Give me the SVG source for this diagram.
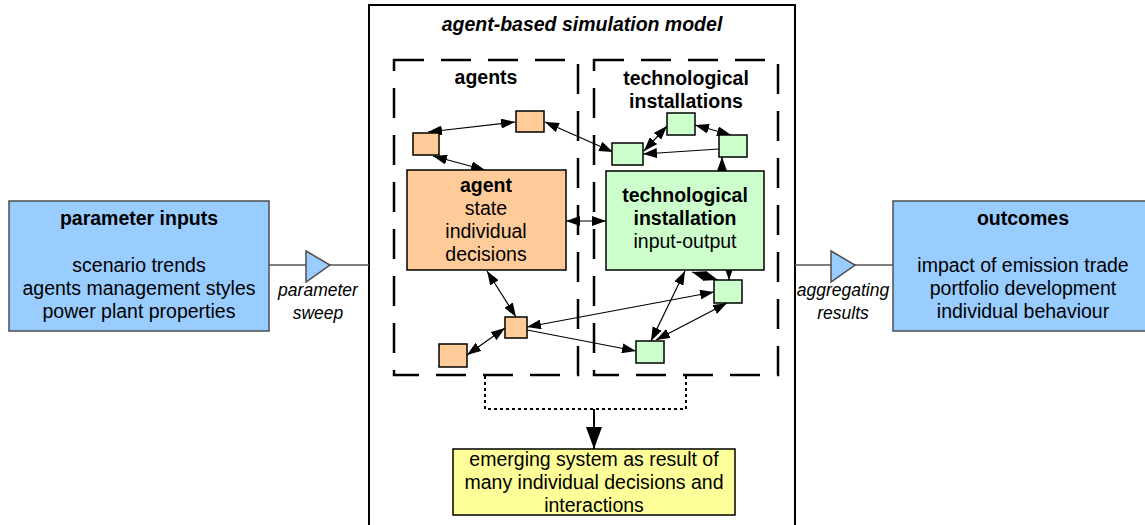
<svg xmlns="http://www.w3.org/2000/svg" width="1145" height="525" viewBox="0 0 1145 525">
<style>
text{font-family:"Liberation Sans",Arial,sans-serif;font-size:19.5px;fill:#000;text-anchor:middle}
.b{font-weight:bold}
.i{font-style:italic}
.lbl{font-size:17.5px;font-style:italic}
.blue{fill:#99CCFF;stroke:#4d4d4d;stroke-width:1.5}
.or{fill:#FFCC99;stroke:#000;stroke-width:1.5}
.gr{fill:#CCFFCC;stroke:#000;stroke-width:1.5}
.dash{fill:none;stroke:#000;stroke-width:2.5;stroke-dasharray:30 17}
.c{fill:none;stroke:#000;stroke-width:1.2}
.g{fill:none;stroke:#555;stroke-width:1.5}
</style>
<defs>
<marker id="ah" viewBox="0 0 14 10" refX="14" refY="5" markerWidth="14" markerHeight="10" orient="auto-start-reverse" markerUnits="userSpaceOnUse"><path d="M0,0 L14,5 L0,10 z" fill="#000"/></marker>
<marker id="big" viewBox="0 0 22 16" refX="22" refY="8" markerWidth="22" markerHeight="16" orient="auto" markerUnits="userSpaceOnUse"><path d="M0,0 L22,8 L0,16 z" fill="#000"/></marker>
</defs>

<g id="model">
<rect x="369" y="5" width="426" height="530" fill="#fff" stroke="#000" stroke-width="2"/>
<text class="b i" x="582" y="31">agent-based simulation model</text>
</g>

<g id="agents-group">
<rect class="dash" x="394" y="60" width="184" height="315"/>
<text class="b" x="486" y="84">agents</text>
</g>
<g id="tech-group">
<rect class="dash" x="594" y="60" width="184" height="315"/>
<text class="b" x="686" y="85">technological</text>
<text class="b" x="686" y="108">installations</text>
</g>

<g id="connectors">
<line class="g" x1="269" y1="265" x2="369" y2="265"/>
<line class="g" x1="795" y1="265" x2="893" y2="265"/>
<path d="M485,376 V409 H686 V376" fill="none" stroke="#000" stroke-width="2" stroke-dasharray="3 3"/>
<line x1="594" y1="409" x2="594" y2="449" stroke="#000" stroke-width="2" marker-end="url(#big)"/>
<line class="c" x1="428" y1="132" x2="515" y2="122" marker-start="url(#ah)" marker-end="url(#ah)"/>
<line class="c" x1="433" y1="156" x2="485" y2="170" marker-start="url(#ah)" marker-end="url(#ah)"/>
<line class="c" x1="545" y1="122" x2="613" y2="152" marker-start="url(#ah)" marker-end="url(#ah)"/>
<line class="c" x1="644" y1="151" x2="667" y2="126" marker-start="url(#ah)" marker-end="url(#ah)"/>
<line class="c" x1="695" y1="125" x2="731" y2="135" marker-start="url(#ah)" marker-end="url(#ah)"/>
<line class="c" x1="719" y1="149" x2="643" y2="154" marker-end="url(#ah)"/>
<line class="c" x1="722" y1="171" x2="722" y2="157" marker-end="url(#ah)"/>
<line class="c" x1="566" y1="221" x2="606" y2="221" marker-start="url(#ah)" marker-end="url(#ah)"/>
<line class="c" x1="487" y1="271" x2="516" y2="317" marker-start="url(#ah)" marker-end="url(#ah)"/>
<line class="c" x1="505" y1="328" x2="467" y2="355" marker-start="url(#ah)" marker-end="url(#ah)"/>
<line class="c" x1="527" y1="327" x2="714" y2="292" marker-start="url(#ah)" marker-end="url(#ah)"/>
<line class="c" x1="527" y1="330" x2="636" y2="351" marker-end="url(#ah)"/>
<line class="c" x1="685" y1="271" x2="651" y2="341" marker-start="url(#ah)" marker-end="url(#ah)"/>
<line class="c" x1="727" y1="303" x2="656" y2="340" marker-start="url(#ah)" marker-end="url(#ah)"/>
<line class="c" x1="692" y1="272" x2="718" y2="280" marker-start="url(#ah)" marker-end="url(#ah)"/>
<line class="c" x1="729" y1="270" x2="729" y2="280" marker-end="url(#ah)"/>
</g>

<g id="param-inputs">
<rect class="blue" x="9" y="201" width="260" height="130"/>
<text class="b" x="139" y="225">parameter inputs</text>
<text x="139" y="272">scenario trends</text>
<text x="139" y="295">agents management styles</text>
<text x="139" y="318">power plant properties</text>
</g>
<g id="param-sweep">
<path d="M306,251 L330,265 L306,282 z" class="blue"/>
<text class="lbl" x="318" y="296">parameter</text>
<text class="lbl" x="318" y="319">sweep</text>
</g>
<g id="aggregating">
<path d="M831,251 L855,265 L831,282 z" class="blue"/>
<text class="lbl" x="843" y="296">aggregating</text>
<text class="lbl" x="843" y="319">results</text>
</g>
<g id="outcomes">
<rect class="blue" x="893" y="201" width="260" height="130"/>
<text class="b" x="1023" y="225">outcomes</text>
<text x="1023" y="272">impact of emission trade</text>
<text x="1023" y="295">portfolio development</text>
<text x="1023" y="318">individual behaviour</text>
</g>

<g id="agent">
<rect class="or" x="407" y="170" width="159" height="100"/>
<text class="b" x="486" y="192">agent</text>
<text x="486" y="215">state</text>
<text x="486" y="238">individual</text>
<text x="486" y="261">decisions</text>
</g>
<g id="a1"><rect class="or" x="413" y="133" width="26" height="22"/></g>
<g id="a2"><rect class="or" x="516" y="111" width="28" height="21"/></g>
<g id="a3"><rect class="or" x="505" y="317" width="22" height="21"/></g>
<g id="a4"><rect class="or" x="439" y="344" width="28" height="23"/></g>

<g id="tech">
<rect class="gr" x="606" y="171" width="158" height="99"/>
<text class="b" x="685" y="202">technological</text>
<text class="b" x="685" y="225">installation</text>
<text x="685" y="248">input-output</text>
</g>
<g id="g1"><rect class="gr" x="612" y="143" width="31" height="22"/></g>
<g id="g2"><rect class="gr" x="667" y="113" width="28" height="22"/></g>
<g id="g3"><rect class="gr" x="719" y="135" width="28" height="22"/></g>
<g id="g4"><rect class="gr" x="714" y="280" width="28" height="23"/></g>
<g id="g5"><rect class="gr" x="636" y="341" width="28" height="22"/></g>

<g id="emerging">
<rect x="453" y="449" width="282" height="66" fill="#FFFF99" stroke="#000" stroke-width="1.5"/>
<text x="594" y="466">emerging system as result of</text>
<text x="594" y="489">many individual decisions and</text>
<text x="594" y="512">interactions</text>
</g>
</svg>
